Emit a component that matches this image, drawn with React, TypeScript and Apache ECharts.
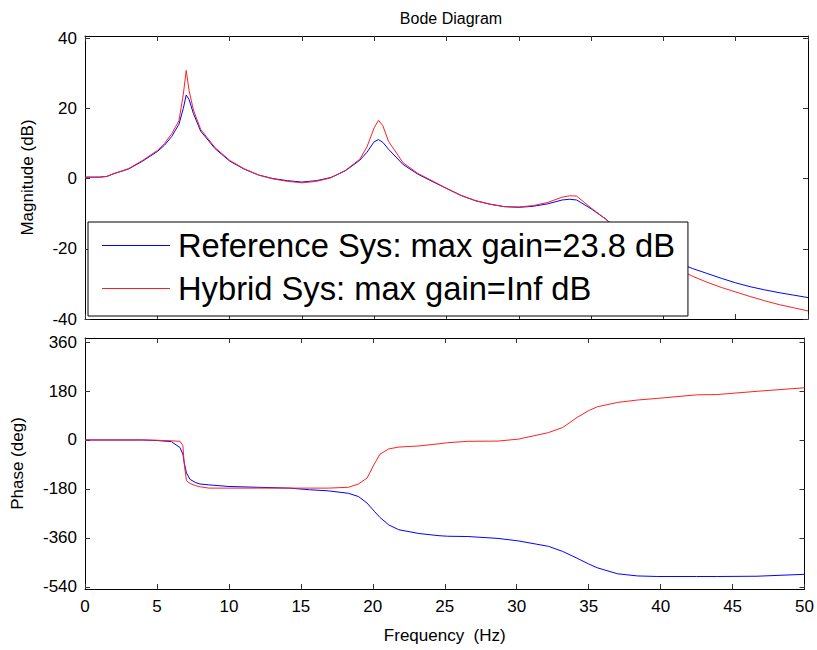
import React, { useEffect, useRef } from 'react';
import * as echarts from 'echarts';

const magFreq = [0, 1, 1.5, 2, 3, 4, 5, 5.5, 6, 6.5, 6.8, 7, 7.2, 7.5, 8, 9, 10, 11, 12, 13, 14, 15, 16, 17, 18, 19, 19.5, 20, 20.3, 20.6, 21, 22, 23, 24, 25, 26, 27, 28, 29, 30, 31, 32, 33, 33.5, 34, 35, 36, 37, 38, 39, 40, 41, 42, 43, 44, 45, 46, 47, 48, 49, 50];
const magRef = [0.4, 0.4, 0.6, 1.4, 2.7, 5.0, 7.7, 9.5, 12, 15.5, 20, 23.8, 22.5, 18.5, 13.5, 8.5, 5, 2.7, 1.0, 0, -0.6, -1, -0.6, 0.3, 2.2, 5.2, 7.5, 10.5, 11.1, 10.3, 8.3, 4, 1.3, -0.8, -2.8, -4.8, -6.3, -7.3, -8, -8.2, -7.9, -7.2, -6.1, -5.9, -6.1, -8.6, -11.5, -15, -18, -20.5, -22.3, -24, -25.6, -27, -28.4, -29.7, -30.8, -31.7, -32.5, -33.2, -33.9];
const magHyb = [0.4, 0.4, 0.6, 1.4, 2.8, 5.2, 8.0, 10, 12.8, 16.5, 24, 30.8, 25, 19.5, 14, 8.8, 5.2, 2.8, 1.0, -0.1, -0.8, -1.2, -0.8, 0.2, 2.3, 5.5, 9, 14.5, 16.6, 15, 10.5, 4.5, 1.5, -0.6, -2.8, -4.8, -6.3, -7.3, -8, -8.1, -7.7, -6.8, -5.3, -4.9, -5, -8.4, -11.5, -15.5, -19, -21.8, -24, -25.8, -27.8, -29.5, -31, -32.3, -33.6, -34.8, -35.9, -36.8, -37.7];

const phaseFreq = [0, 4, 5, 6, 6.6, 6.8, 6.9, 7.05, 7.3, 7.7, 8, 8.6, 10, 12, 14.2, 15.6, 16.9, 18.3, 19, 19.6, 20.1, 20.5, 21.1, 21.8, 23.2, 24.6, 25.2, 26.6, 28.7, 30.1, 32.2, 33.2, 34.2, 35, 35.6, 37, 38.4, 39.8, 42.5, 43.9, 46.7, 50];
const phaseRef = [0, 0, -2, -6, -28, -52, -85, -121, -145, -157, -162, -165, -171, -174, -177, -183, -187, -196, -208, -232, -262, -285, -312, -330, -344, -352, -354, -355, -362, -371, -391, -410, -435, -456, -470, -492, -500, -502, -502, -502, -501, -494];
const phaseHyb = [0, 0, -1, -3, -5, -20, -90, -150, -160, -168, -172, -177, -177, -177, -177, -177, -177, -174, -162, -140, -89, -52, -33, -26, -22, -14, -10, -5, -4, 3, 27, 46, 83, 108, 122, 138, 147, 153, 166, 167, 179, 192];

const magTicks = [-40, -20, 0, 20, 40];
const phaseTicks = [-540, -360, -180, 0, 180, 360];

const refName = 'Reference Sys: max gain=23.8 dB';
const hybName = 'Hybrid Sys: max gain=Inf dB';
const titleText = 'Bode Diagram';

const FONT = 'Liberation Sans, Arial, Helvetica, sans-serif';

export default function App() {
  const ref = useRef<HTMLDivElement>(null);
  useEffect(() => {
    const chart = echarts.init(ref.current!, null, { renderer: 'svg' });
    const zip = (xs: number[], ys: number[]) => xs.map((x, i) => [x, ys[i]]);
    const tick = { show: true, inside: true, length: 5, lineStyle: { color: '#333', width: 1 } };
    const axLine = { show: true, onZero: false, lineStyle: { color: '#000', width: 1 } };
    const lbl = { fontSize: 17, color: '#000', fontFamily: FONT };
    const xBase = (gridIndex: number, position: string, showLabel: boolean) => ({
      type: 'value', gridIndex, position, min: 0, max: 50, interval: 5,
      axisLine: axLine, axisTick: tick, splitLine: { show: false },
      axisLabel: showLabel ? { ...lbl, margin: 9 } : { show: false },
    });
    const yBase = (gridIndex: number, position: string, min: number, max: number, ticks: number[], showLabel: boolean) => ({
      type: 'value', gridIndex, position, min, max,
      axisLine: axLine,
      axisTick: { ...tick, customValues: ticks },
      splitLine: { show: false },
      axisLabel: showLabel ? { ...lbl, margin: 8, customValues: ticks } : { show: false },
    });
    const option = {
      animation: false,
      backgroundColor: '#fff',
      title: {
        text: titleText, left: 446, top: 5, textAlign: 'center',
        textStyle: { fontSize: 16, fontWeight: 'normal', color: '#000', fontFamily: FONT },
      },
      grid: [
        { left: 85, right: 9, top: 36, height: 283 },
        { left: 85, right: 9, top: 338, height: 251 },
      ],
      xAxis: [
        xBase(0, 'bottom', false),
        xBase(0, 'top', false),
        {
          ...xBase(1, 'bottom', true),
          name: 'Frequency  (Hz)', nameLocation: 'middle', nameGap: 38,
          nameTextStyle: { ...lbl },
        },
        xBase(1, 'top', false),
      ],
      yAxis: [
        {
          ...yBase(0, 'left', -40, 40.6, magTicks, true),
          name: 'Magnitude (dB)', nameLocation: 'middle', nameGap: 49,
          nameTextStyle: { ...lbl },
        },
        yBase(0, 'right', -40, 40.6, magTicks, false),
        {
          ...yBase(1, 'left', -548, 375, phaseTicks, true),
          name: 'Phase (deg)', nameLocation: 'middle', nameGap: 59,
          nameTextStyle: { ...lbl },
        },
        yBase(1, 'right', -548, 375, phaseTicks, false),
      ],
      legend: {
        data: [refName, hybName],
        orient: 'vertical', left: 88, top: 222,
        padding: [5, 13, 9, 14], itemGap: 6, itemWidth: 68, itemHeight: 1, icon: 'rect',
        backgroundColor: '#fff', borderColor: '#000', borderWidth: 1, borderRadius: 0,
        selectedMode: false, z: 10,
        textStyle: { fontSize: 32.7, fontFamily: FONT, color: '#000', lineHeight: 37, padding: [0, 0, 0, 3] },
      },
      series: [
        { name: refName, type: 'line', xAxisIndex: 0, yAxisIndex: 0, data: zip(magFreq, magRef), showSymbol: false, symbol: 'none', lineStyle: { color: '#0000ff', width: 1 }, itemStyle: { color: '#0000ff' } },
        { name: hybName, type: 'line', xAxisIndex: 0, yAxisIndex: 0, data: zip(magFreq, magHyb), showSymbol: false, symbol: 'none', lineStyle: { color: '#ff2020', width: 1 }, itemStyle: { color: '#ff2020' } },
        { name: refName, type: 'line', xAxisIndex: 2, yAxisIndex: 2, data: zip(phaseFreq, phaseRef), showSymbol: false, symbol: 'none', lineStyle: { color: '#0000ff', width: 1 }, itemStyle: { color: '#0000ff' } },
        { name: hybName, type: 'line', xAxisIndex: 2, yAxisIndex: 2, data: zip(phaseFreq, phaseHyb), showSymbol: false, symbol: 'none', lineStyle: { color: '#ff2020', width: 1 }, itemStyle: { color: '#ff2020' } },
      ],
    };
    chart.setOption(option as any);
    return () => chart.dispose();
  }, []);
  return <div ref={ref} style={{ position: 'fixed', left: 0, top: 0, width: 817, height: 650 }} />;
}
